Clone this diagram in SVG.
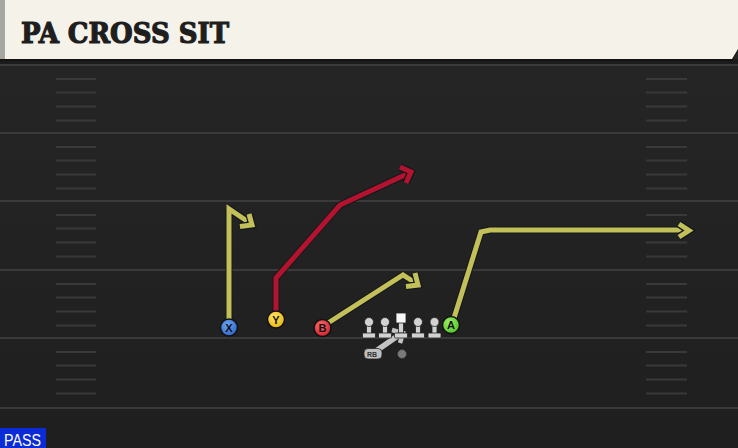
<svg xmlns="http://www.w3.org/2000/svg" width="738" height="448" viewBox="0 0 738 448">
<style>
.yl{stroke:#3a3a3a;stroke-width:2}
.hs{stroke:#393939;stroke-width:2}
.out{fill:none;stroke:#15181a;stroke-width:7;stroke-linejoin:round;stroke-linecap:round}
.yel{fill:none;stroke:#c3c05a;stroke-width:5;stroke-linejoin:miter;stroke-linecap:butt}
.red{fill:none;stroke:#b3132f;stroke-width:5;stroke-linejoin:miter;stroke-linecap:butt}
.lbl{font-family:"Liberation Sans","DejaVu Sans",sans-serif;font-weight:bold;font-size:11px;fill:#111;text-anchor:middle}
.pc{stroke:#111;stroke-width:1.5}
.ol{fill:#d2d2d2;stroke:#222;stroke-width:0.8}
.ho{fill:none;stroke:#15181a;stroke-width:7.5;stroke-linejoin:miter}
</style>
<defs>
<linearGradient id="bg" x1="0" y1="0" x2="0" y2="1">
<stop offset="0" stop-color="#262626"/>
<stop offset="1" stop-color="#1f1f1f"/>
</linearGradient>
<radialGradient id="gB" cx="0.4" cy="0.35" r="0.7"><stop offset="0" stop-color="#6aa5f5"/><stop offset="1" stop-color="#2d64c8"/></radialGradient>
<radialGradient id="gY" cx="0.4" cy="0.35" r="0.7"><stop offset="0" stop-color="#ffe36a"/><stop offset="1" stop-color="#e8b40c"/></radialGradient>
<radialGradient id="gR" cx="0.4" cy="0.35" r="0.7"><stop offset="0" stop-color="#ff6a6a"/><stop offset="1" stop-color="#cc1f2a"/></radialGradient>
<radialGradient id="gG" cx="0.4" cy="0.35" r="0.7"><stop offset="0" stop-color="#9cf06a"/><stop offset="1" stop-color="#4fbf22"/></radialGradient>
<g id="lineman">
<rect x="-2.5" y="0" width="5" height="12" fill="#d2d2d2" stroke="#222" stroke-width="0.8"/>
<circle cx="0" cy="0" r="4.5" class="ol"/>
<rect x="-6.5" y="11" width="13" height="5" rx="1" class="ol"/>
</g>
</defs>
<rect x="0" y="0" width="738" height="448" fill="url(#bg)"/>
<rect x="0" y="59" width="738" height="6" fill="#1c1c1c"/>
<g id="field">
<line class="yl" x1="0" y1="65" x2="738" y2="65"/>
<line class="yl" x1="0" y1="133" x2="738" y2="133"/>
<line class="yl" x1="0" y1="201" x2="738" y2="201"/>
<line class="yl" x1="0" y1="270" x2="738" y2="270"/>
<line class="yl" x1="0" y1="338" x2="738" y2="338"/>
<line class="yl" x1="0" y1="408" x2="738" y2="408"/>
<g class="hs">
<path d="M56 79H96M56 92.5H96M56 106.5H96M56 120.5H96M56 147H96M56 160.5H96M56 174.5H96M56 188.5H96M56 215H96M56 228.5H96M56 242.5H96M56 256.5H96M56 284H96M56 297.5H96M56 311.5H96M56 325.5H96M56 352H96M56 365.5H96M56 379.5H96M56 393.5H96"/>
<path d="M646 79H687M646 92.5H687M646 106.5H687M646 120.5H687M646 147H687M646 160.5H687M646 174.5H687M646 188.5H687M646 215H687M646 228.5H687M646 242.5H687M646 256.5H687M646 284H687M646 297.5H687M646 311.5H687M646 325.5H687M646 352H687M646 365.5H687M646 379.5H687M646 393.5H687"/>
</g>
</g>
<g id="header">
<polygon points="0,0 738,0 738,51 732,61 0,61" fill="#111" opacity="0.7"/>
<polygon points="0,0 738,0 738,49 732,59 0,59" fill="#f5f2ea"/>
<rect x="0" y="0" width="5" height="59" fill="#a7a7a2"/>
<text x="21" y="43" font-family="'DejaVu Serif',serif" font-weight="bold" font-size="28" fill="#1e1e1e" stroke="#1e1e1e" stroke-width="1.2" textLength="208" lengthAdjust="spacingAndGlyphs">PA CROSS SIT</text>
</g>
<g id="connectors">
<path class="out" d="M229 320V209L249 222"/>
<path class="yel" d="M229 320V209L247 221"/>
<path class="ho" d="M240 226.5L252 225L249 214"/>
<path d="M240 226.5L252 225L249 214" fill="none" stroke="#c3c05a" stroke-width="5" stroke-linejoin="miter"/>
<path class="out" d="M276 312V278L340 205L405 175"/>
<path class="red" d="M276 312V278L340 205L407 174"/>
<path class="ho" d="M400 167L411 172L406 183"/>
<path d="M400 167L411 172L406 183" fill="none" stroke="#b3132f" stroke-width="5" stroke-linejoin="miter"/>
<path class="out" d="M328 323L403 275L413 281"/>
<path class="yel" d="M328 323L403 275L414 282"/>
<path class="ho" d="M406 286.5L418 285L415 273"/>
<path d="M406 286.5L418 285L415 273" fill="none" stroke="#c3c05a" stroke-width="5" stroke-linejoin="miter"/>
<path class="out" d="M454 318L481 232L490 230H684"/>
<path class="yel" d="M454 318L481 232L490 230H686"/>
<path class="ho" d="M679 224L689 230.5L679 237"/>
<path d="M679 224L689 230.5L679 237" fill="none" stroke="#c3c05a" stroke-width="5" stroke-linejoin="miter"/>
<path d="M376 351L399 335" stroke="#c4c4c4" stroke-width="5.5" fill="none"/>
<path d="M392 330L403 333L400 343" fill="none" stroke="#c4c4c4" stroke-width="4.5"/>
</g>
<g id="line">
<use href="#lineman" x="369" y="322"/>
<use href="#lineman" x="385" y="322"/>
<use href="#lineman" x="418" y="322"/>
<use href="#lineman" x="434.5" y="322"/>
<g id="center">
<rect x="398.5" y="322" width="5" height="11" fill="#d2d2d2" stroke="#222" stroke-width="0.8"/>
<rect x="396" y="313" width="10" height="10" fill="#f6f6f6" stroke="#222" stroke-width="0.8"/>
<rect x="394.5" y="333" width="13" height="5" rx="1" class="ol"/>
</g>
</g>
<g id="qb"><circle cx="402" cy="354" r="4.5" fill="#7a7a7a" stroke="#333" stroke-width="0.8"/></g>
<g id="rb">
<rect x="364" y="348.5" width="18" height="10.5" rx="4" fill="#bfbfbf" stroke="#222" stroke-width="0.8"/>
<text x="372" y="357" font-family="'Liberation Sans',sans-serif" font-weight="bold" font-size="7" fill="#333" text-anchor="middle">RB</text>
</g>
<g id="X"><circle cx="229" cy="327.5" r="8.5" fill="url(#gB)" class="pc"/><text class="lbl" x="229" y="331.5">X</text></g>
<g id="Y"><circle cx="276" cy="319.5" r="8.5" fill="url(#gY)" class="pc"/><text class="lbl" x="276" y="323.5">Y</text></g>
<g id="B"><circle cx="322.5" cy="328" r="8.5" fill="url(#gR)" class="pc"/><text class="lbl" x="322.5" y="332">B</text></g>
<g id="A"><circle cx="451" cy="325" r="8.5" fill="url(#gG)" class="pc"/><text class="lbl" x="451" y="329">A</text></g>
<g id="pass">
<rect x="0" y="428" width="46" height="20" fill="#0b2bd6"/>
<text x="4" y="445.5" font-family="'Liberation Sans',sans-serif" font-size="16" fill="#fff" textLength="37" lengthAdjust="spacingAndGlyphs">PASS</text>
</g>
</svg>
